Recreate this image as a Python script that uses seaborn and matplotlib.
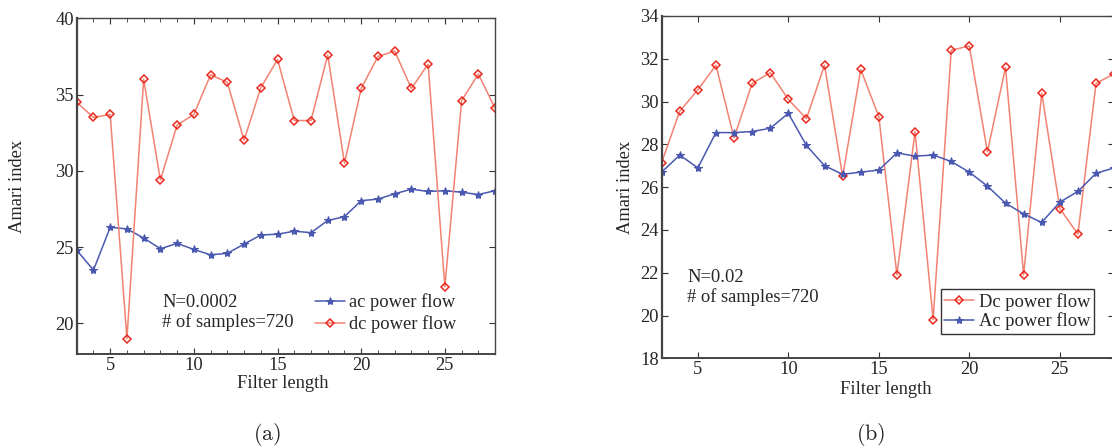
import numpy as np
import pandas as pd
import matplotlib
matplotlib.use('Agg')
import matplotlib.pyplot as plt
import seaborn as sns
from matplotlib.ticker import MultipleLocator

sns.set_style('ticks')
plt.rcParams['font.family'] = ['Liberation Serif', 'DejaVu Serif']
plt.rcParams['mathtext.fontset'] = 'cm'

# 数据
filter_len = list(range(3, 29))

# (a) N=0.0002
ac_a = [24.8, 23.5, 26.3, 26.2, 25.6, 24.9, 25.25, 24.85, 24.5, 24.6, 25.2, 25.8, 25.85,
        26.05, 25.95, 26.75, 27.0, 28.05, 28.15, 28.5, 28.8, 28.65, 28.7, 28.6, 28.45, 28.7]
dc_a = [34.5, 33.5, 33.7, 19.0, 36.0, 29.4, 33.0, 33.7, 36.3, 35.8, 32.0, 35.45, 37.3,
        33.3, 33.3, 37.6, 30.5, 35.4, 37.5, 37.85, 35.4, 37.0, 22.4, 34.6, 36.35, 34.1]

# (b) N=0.02
dc_b = [27.15, 29.55, 30.55, 31.7, 28.3, 30.85, 31.35, 30.1, 29.2, 31.7, 26.5, 31.5, 29.3,
        21.9, 28.6, 19.8, 32.4, 32.6, 27.65, 31.6, 21.9, 30.4, 25.0, 23.8, 30.85, 31.3]
ac_b = [26.7, 27.5, 26.9, 28.55, 28.55, 28.6, 28.75, 29.45, 27.95, 27.0, 26.6, 26.7, 26.8,
        27.6, 27.45, 27.5, 27.2, 26.7, 26.05, 25.25, 24.75, 24.35, 25.3, 25.8, 26.65, 26.9]

red_line = '#f28272'
red_mk = '#e8291f'
blue = '#4a58b0'
fs = 13.3

fig = plt.figure(figsize=(11.12, 4.48), dpi=100)
ax1 = fig.add_axes([0.069, 0.2098, 0.3762, 0.7494])
ax2 = fig.add_axes([0.595, 0.2002, 0.4069, 0.7641])

# 图 (a)
sns.lineplot(x=filter_len, y=ac_a, ax=ax1, color=blue, lw=1.1, marker='*', ms=6,
             mec=blue, mfc=blue, label='ac power flow')
sns.lineplot(x=filter_len, y=dc_a, ax=ax1, color=red_line, lw=1.1, marker='D', ms=4.5,
             mec=red_mk, mfc='none', mew=1.1, label='dc power flow')
ax1.set_xlim(3, 28)
ax1.set_ylim(18, 40)
ax1.set_xticks([5, 10, 15, 20, 25])
ax1.set_yticks([20, 25, 30, 35, 40])
ax1.xaxis.set_minor_locator(MultipleLocator(1))
ax1.text(0.204, 0.152, 'N=0.0002', transform=ax1.transAxes, fontsize=fs, va='center')
ax1.text(0.204, 0.095, '# of samples=720', transform=ax1.transAxes, fontsize=fs, va='center')
ax1.legend(loc='lower left', bbox_to_anchor=(0.557, 0.046), frameon=False, fontsize=fs,
           handlelength=1.6, handletextpad=0.25, labelspacing=0.2, borderpad=0.3,
           borderaxespad=0)

# 图 (b)
sns.lineplot(x=filter_len, y=dc_b, ax=ax2, color=red_line, lw=1.1, marker='D', ms=4.5,
             mec=red_mk, mfc='none', mew=1.1, label='Dc power flow')
sns.lineplot(x=filter_len, y=ac_b, ax=ax2, color=blue, lw=1.1, marker='*', ms=6,
             mec=blue, mfc=blue, label='Ac power flow')
ax2.set_xlim(3, 28)
ax2.set_ylim(18, 34)
ax2.set_xticks([5, 10, 15, 20, 25])
ax2.set_yticks(list(range(18, 35, 2)))
ax2.text(0.056, 0.2375, 'N=0.02', transform=ax2.transAxes, fontsize=fs, va='center')
ax2.text(0.056, 0.179, '# of samples=720', transform=ax2.transAxes, fontsize=fs, va='center')
leg = ax2.legend(loc='lower left', bbox_to_anchor=(0.6166, 0.071), frameon=True, fancybox=False,
                 fontsize=fs, handlelength=1.6, handletextpad=0.25, labelspacing=0.1,
                 borderpad=0.2, borderaxespad=0)
leg.get_frame().set_edgecolor('black')
leg.get_frame().set_linewidth(1.0)

for ax in (ax1, ax2):
    ax.tick_params(which='both', direction='in', top=True, right=True, labelsize=fs,
                   color='#333333', pad=2)
    ax.tick_params(which='major', length=4)
    ax.tick_params(which='minor', length=3)
    for s in ax.spines.values():
        s.set_color('#444444')
        s.set_linewidth(1.0)
    ax.spines['left'].set_linewidth(1.6)
    ax.spines['bottom'].set_linewidth(1.4)
    ax.set_xlabel('Filter length', fontsize=fs)
    ax.set_ylabel('Amari index', fontsize=fs)

ax1.yaxis.set_label_coords(-0.122, 0.5)
ax1.xaxis.set_label_coords(0.493, -0.062)
ax2.yaxis.set_label_coords(-0.061, 0.5)
ax2.xaxis.set_label_coords(0.496, -0.066)

fig.text(267 / 1112, 1 - 434 / 448, r'$\mathrm{(a)}$', ha='center', va='center', fontsize=16)
fig.text(871 / 1112, 1 - 434 / 448, r'$\mathrm{(b)}$', ha='center', va='center', fontsize=16)

plt.savefig('out.png', dpi=100)
